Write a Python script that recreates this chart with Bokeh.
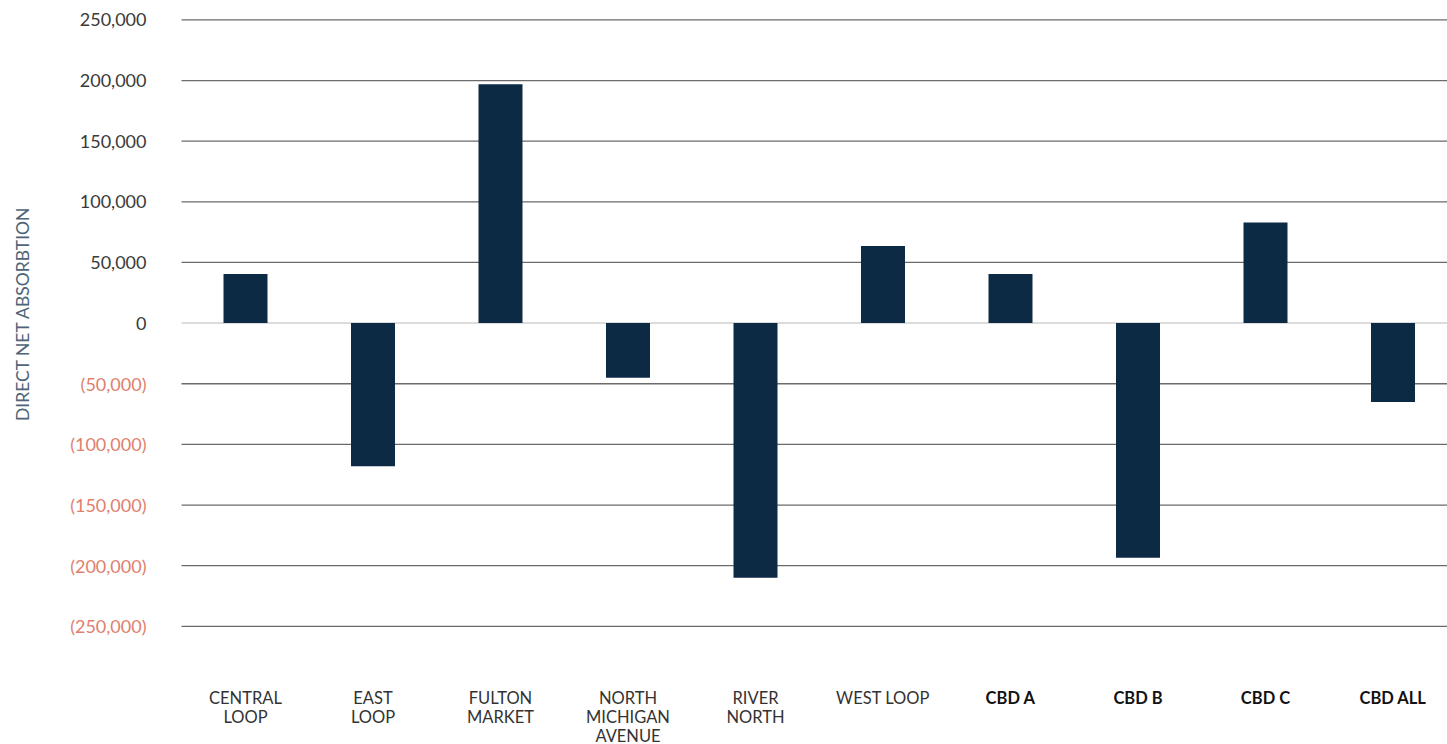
import numpy as np
from bokeh.plotting import figure
from bokeh.models import ColumnDataSource, Range1d
from bokeh.core.properties import value
from bokeh.embed import file_html
from bokeh.resources import INLINE

# ---- data ----
categories = ["CENTRAL\nLOOP", "EAST\nLOOP", "FULTON\nMARKET", "NORTH\nMICHIGAN\nAVENUE",
              "RIVER\nNORTH", "WEST LOOP", "CBD A", "CBD B", "CBD C", "CBD ALL"]
bold_flags = [False, False, False, False, False, False, True, True, True, True]
absorption = [40500, -118000, 197000, -45000, -210000, 63500, 40500, -193500, 83000, -65000]
tick_values = [250000, 200000, 150000, 100000, 50000, 0,
               -50000, -100000, -150000, -200000, -250000]
tick_labels = ["250,000", "200,000", "150,000", "100,000", "50,000", "0",
               "(50,000)", "(100,000)", "(150,000)", "(200,000)", "(250,000)"]
y_title = "DIRECT NET ABSORBTION"

FONT = "Lato"
PX_X = 127.5            # pixels per category
PX_Y = 824.5            # data units per pixel
X0 = -245 / PX_X        # left edge of canvas in data units
X1 = X0 + 1447 / PX_X
Y_TOP = 322.6 * PX_Y
Y_BOT = -(744 - 322.6) * PX_Y
FRAME_LEFT = -0.502     # where gridlines start

x = np.arange(len(categories))

p = figure(width=1447, height=744, output_backend="svg", toolbar_location=None,
           x_range=Range1d(X0, X1), y_range=Range1d(Y_BOT, Y_TOP),
           min_border=0)
p.axis.visible = False
p.grid.visible = False
p.outline_line_color = None
p.background_fill_color = "white"
p.border_fill_color = "white"

# grid lines
tv = np.array(tick_values, dtype=float)
nonzero = tv != 0
n_nz = int(nonzero.sum())
grid_src = ColumnDataSource(dict(x0=[FRAME_LEFT] * n_nz, x1=[X1] * n_nz, y=tv[nonzero]))
p.segment(x0="x0", y0="y", x1="x1", y1="y", source=grid_src,
          line_color="#6b6b6b", line_width=1.3)
p.segment(x0=[FRAME_LEFT], y0=[0], x1=[X1], y1=[0],
          line_color="#dcdcdc", line_width=2)

# bars
src = ColumnDataSource(dict(x=x, top=absorption))
p.vbar(x="x", top="top", bottom=0, width=0.345, source=src,
       fill_color="#0d2a44", line_color=None)

# y tick labels
tick_colors = ["#3a3a3a" if v >= 0 else "#e0806d" for v in tick_values]
tick_src = ColumnDataSource(dict(x=[FRAME_LEFT - 35 / PX_X] * len(tick_values),
                                 y=tick_values, text=tick_labels, color=tick_colors))
p.text(x="x", y="y", text="text", source=tick_src, text_align="right",
       text_baseline="middle", text_font=value(FONT), text_font_size="18px",
       text_color="color")

# y title
p.text(x=[X0 + 22 / PX_X], y=[(322.6 - 313) * PX_Y], text=[y_title], angle=np.pi / 2,
       text_align="center", text_baseline="middle", text_font=value(FONT),
       text_font_size="17.5px", text_color="#4d6479")

# category labels
label_src = ColumnDataSource(dict(
    x=x, y=[-(687 - 322.6) * PX_Y] * len(categories), text=categories,
    style=["bold" if b else "normal" for b in bold_flags],
    color=["#111111" if b else "#333333" for b in bold_flags]))
p.text(x="x", y="y", text="text", source=label_src, text_align="center",
       text_baseline="top", text_font=value(FONT), text_font_size="16.5px",
       text_font_style="style", text_color="color", text_line_height=0.95)

open("out.html", "w").write(file_html(p, INLINE))
